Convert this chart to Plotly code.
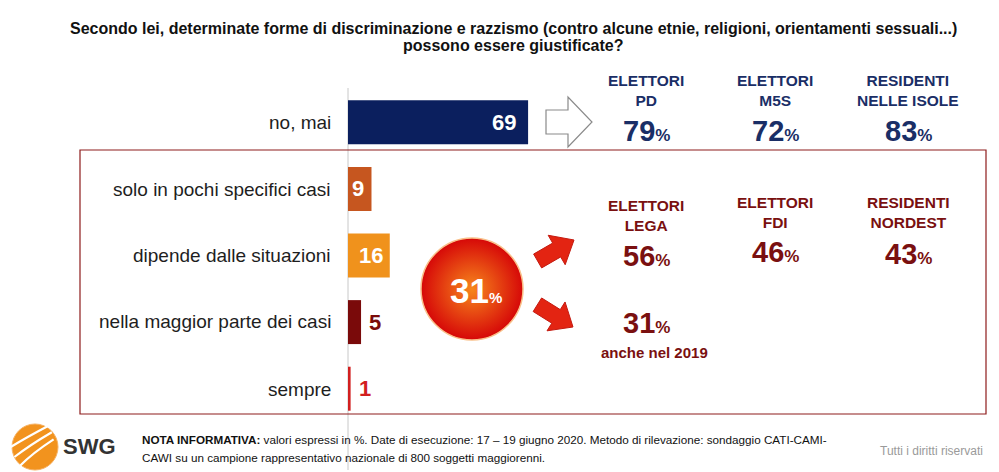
import math
import plotly.graph_objects as go

# ---------------- data ----------------
categories = ["no, mai", "solo in pochi specifici casi", "dipende dalle situazioni",
              "nella maggior parte dei casi", "sempre"]
values = [69, 9, 16, 5, 1]
bar_colors = ["#0B1F5E", "#C6561F", "#F0921C", "#7A0A0A", "#D21F1F"]
label_colors = ["white", "white", "white", "#7A0A0A", "#D21F1F"]
label_inside = [True, True, True, False, False]

top_groups = ["ELETTORI<br>PD", "ELETTORI<br>M5S", "RESIDENTI<br>NELLE ISOLE"]
top_values = [79, 72, 83]
red_groups = ["ELETTORI<br>LEGA", "ELETTORI<br>FDI", "RESIDENTI<br>NORDEST"]
red_values = [56, 46, 43]
value_2019 = 31

title_lines = ["Secondo lei, determinate forme di discriminazione e razzismo (contro alcune etnie, "
               "religioni, orientamenti sessuali...)",
               "possono essere giustificate?"]
note_bold = "NOTA INFORMATIVA:"
note_line1 = (" valori espressi in %. Date di esecuzione: 17 \u2013 19 giugno 2020. Metodo di rilevazione: "
              "sondaggio CATI-CAMI-")
note_line2 = "CAWI su un campione rappresentativo nazionale di 800 soggetti maggiorenni."

# ---------------- layout geometry ----------------
W, H = 999, 472
L, R, T, B = 348, 999, 89, 422
PW, PH = R - L, B - T
ARIAL = "Liberation Sans, Arial, Helvetica, sans-serif"
NAVY = "#1A2E66"
DRED = "#7A1010"

def px(x):
    return (x - L) / PW

def py(y):
    return (B - y) / PH

def path(points):
    return "M " + " L ".join(f"{px(x):.5f},{py(y):.5f}" for x, y in points) + " Z"

x_max = PW / 2.61  # 69 units ~ 180 px

fig = go.Figure()
fig.add_trace(go.Bar(
    y=categories, x=values, orientation="h",
    marker=dict(color=bar_colors, line=dict(width=0)),
    width=0.66, showlegend=False, hoverinfo="skip",
))

# circle (gradient bubble) on a pixel-space overlay axis
total_yes = sum(values[1:])
fig.add_trace(go.Scatter(
    x=[472], y=[289], xaxis="x2", yaxis="y2", mode="markers",
    marker=dict(size=102, color="#D60808",
                gradient=dict(type="radial", color="#F7861C"),
                line=dict(color="#F9C08A", width=1.5)),
    showlegend=False, hoverinfo="skip",
))

ann = []
# bar value labels
for i, (c, v) in enumerate(zip(categories, values)):
    if label_inside[i]:
        ann.append(dict(x=v, y=c, xref="x", yref="y", text=f"<b>{v}</b>", showarrow=False,
                        xanchor="right", xshift=-5 if v < 20 else -10,
                        font=dict(family=ARIAL, size=22, color=label_colors[i])))
    else:
        ann.append(dict(x=v, y=c, xref="x", yref="y", text=f"<b>{v}</b>", showarrow=False,
                        xanchor="left", xshift=6,
                        font=dict(family=ARIAL, size=22, color=label_colors[i])))

# category labels
cat_y = [122, 189, 255, 321, 389]
for c, yy in zip(categories, cat_y):
    ann.append(dict(x=px(333), y=py(yy), xref="paper", yref="paper", text=c, showarrow=False,
                    xanchor="right", yanchor="middle",
                    font=dict(family=ARIAL, size=19, color="#1E1E1E")))

# title
for line, yy in zip(title_lines, [28, 45]):
    ann.append(dict(x=px(513), y=py(yy), xref="paper", yref="paper", text=f"<b>{line}</b>",
                    showarrow=False, xanchor="center", yanchor="middle",
                    font=dict(family=ARIAL, size=16, color="#111111")))

col_x = [646, 775, 908]
for gx, g, v in zip(col_x, top_groups, top_values):
    ann.append(dict(x=px(gx), y=py(91), xref="paper", yref="paper", text=f"<b>{g}</b>",
                    showarrow=False, xanchor="center", yanchor="middle",
                    font=dict(family=ARIAL, size=15.5, color=NAVY)))
    ann.append(dict(x=px(gx), y=py(131), xref="paper", yref="paper",
                    text=f"<b>{v}<span style='font-size:17px'>%</span></b>",
                    showarrow=False, xanchor="center", yanchor="middle",
                    font=dict(family=ARIAL, size=29, color=NAVY)))

red_y = [215, 212, 212]
red_vy = [256, 252, 254]
for gx, g, v, gy, vy in zip(col_x, red_groups, red_values, red_y, red_vy):
    ann.append(dict(x=px(gx), y=py(gy), xref="paper", yref="paper", text=f"<b>{g}</b>",
                    showarrow=False, xanchor="center", yanchor="middle",
                    font=dict(family=ARIAL, size=15.5, color=DRED)))
    ann.append(dict(x=px(gx), y=py(vy), xref="paper", yref="paper",
                    text=f"<b>{v}<span style='font-size:17px'>%</span></b>",
                    showarrow=False, xanchor="center", yanchor="middle",
                    font=dict(family=ARIAL, size=29, color=DRED)))

ann.append(dict(x=px(646), y=py(323), xref="paper", yref="paper",
                text=f"<b>{value_2019}<span style='font-size:17px'>%</span></b>",
                showarrow=False, xanchor="center", yanchor="middle",
                font=dict(family=ARIAL, size=29, color=DRED)))
ann.append(dict(x=px(654), y=py(352), xref="paper", yref="paper", text="<b>anche nel 2019</b>",
                showarrow=False, xanchor="center", yanchor="middle",
                font=dict(family=ARIAL, size=15, color=DRED)))

# bubble text
ann.append(dict(x=px(476), y=py(290), xref="paper", yref="paper",
                text=f"<b>{total_yes}<span style='font-size:15px'>%</span></b>",
                showarrow=False, xanchor="center", yanchor="middle",
                font=dict(family=ARIAL, size=35, color="white")))

# footer
ann.append(dict(x=px(61), y=py(446), xref="paper", yref="paper", text="<b>SWG</b>",
                showarrow=False, xanchor="left", yanchor="middle",
                font=dict(family=ARIAL, size=22, color="#333333")))
ann.append(dict(x=px(140), y=py(440), xref="paper", yref="paper",
                text=f"<b>{note_bold}</b>{note_line1}", align="left",
                showarrow=False, xanchor="left", yanchor="middle",
                font=dict(family=ARIAL, size=11.7, color="#111111")))
ann.append(dict(x=px(140), y=py(457), xref="paper", yref="paper",
                text=note_line2, align="left",
                showarrow=False, xanchor="left", yanchor="middle",
                font=dict(family=ARIAL, size=11.7, color="#111111")))
ann.append(dict(x=px(985), y=py(451), xref="paper", yref="paper", text="Tutti i diritti riservati",
                showarrow=False, xanchor="right", yanchor="middle",
                font=dict(family=ARIAL, size=12, color="#9A9A9A")))

shapes = []
# axis line
shapes.append(dict(type="line", xref="paper", yref="paper", x0=0, x1=0, y0=py(88), y1=py(470),
                   line=dict(color="#C8C8C8", width=1), layer="below"))
# red box
shapes.append(dict(type="rect", xref="paper", yref="paper", x0=px(80), x1=px(986),
                   y0=py(150), y1=py(414), line=dict(color="#8E1C1C", width=1.2),
                   fillcolor="rgba(0,0,0,0)", layer="below"))
# hollow arrow
shapes.append(dict(type="path", xref="paper", yref="paper",
                   path=path([(546, 110), (568, 110), (568, 97), (592, 122), (568, 147), (568, 134), (546, 134)]),
                   fillcolor="white", line=dict(color="#8A8A8A", width=1.2)))

def red_arrow(tx, ty, ang_deg, length=42, shaft=16, head=17, head_len=20):
    a = math.radians(ang_deg)
    ux, uy = math.cos(a), math.sin(a)
    nx, ny = -uy, ux
    bx, by = tx - ux * length, ty - uy * length
    hx, hy = tx - ux * head_len, ty - uy * head_len
    pts = [(bx + nx * shaft / 2, by + ny * shaft / 2),
           (hx + nx * shaft / 2, hy + ny * shaft / 2),
           (hx + nx * head, hy + ny * head),
           (tx, ty),
           (hx - nx * head, hy - ny * head),
           (hx - nx * shaft / 2, hy - ny * shaft / 2),
           (bx - nx * shaft / 2, by - ny * shaft / 2)]
    return dict(type="path", xref="paper", yref="paper", path=path(pts),
                fillcolor="#E32412", line=dict(color="#C41A10", width=1))

shapes.append(red_arrow(574, 240, -30))
shapes.append(red_arrow(573, 327, 32))

# SWG logo
shapes.append(dict(type="circle", xref="paper", yref="paper", x0=px(12), x1=px(58),
                   y0=py(424), y1=py(470), fillcolor="#F2931E", line=dict(color="#F6B060", width=1)))
for off in (-10, -1, 8):
    shapes.append(dict(type="path", xref="paper", yref="paper",
                       path=(f"M {px(15+off*0.6):.5f},{py(458+off):.5f} "
                             f"Q {px(30+off*0.3):.5f},{py(446+off*0.9):.5f} {px(52+off*0.2):.5f},{py(433+off*0.8):.5f}"),
                       line=dict(color="white", width=2.2)))

fig.update_layout(
    width=W, height=H,
    margin=dict(l=L, r=W - R, t=T, b=H - B, pad=0),
    paper_bgcolor="white", plot_bgcolor="white",
    xaxis=dict(range=[0, x_max], visible=False, fixedrange=True),
    yaxis=dict(categoryorder="array", categoryarray=categories, autorange="reversed",
               showticklabels=False, showgrid=False, zeroline=False, fixedrange=True),
    xaxis2=dict(range=[L, R], overlaying="x", visible=False, fixedrange=True),
    yaxis2=dict(range=[B, T], overlaying="y", visible=False, fixedrange=True),
    bargap=0.34,
    annotations=ann, shapes=shapes,
    showlegend=False,
)

fig.write_html("out.html", config={"displayModeBar": False},
               post_script="document.body.style.margin='0';document.body.style.overflow='hidden';")
